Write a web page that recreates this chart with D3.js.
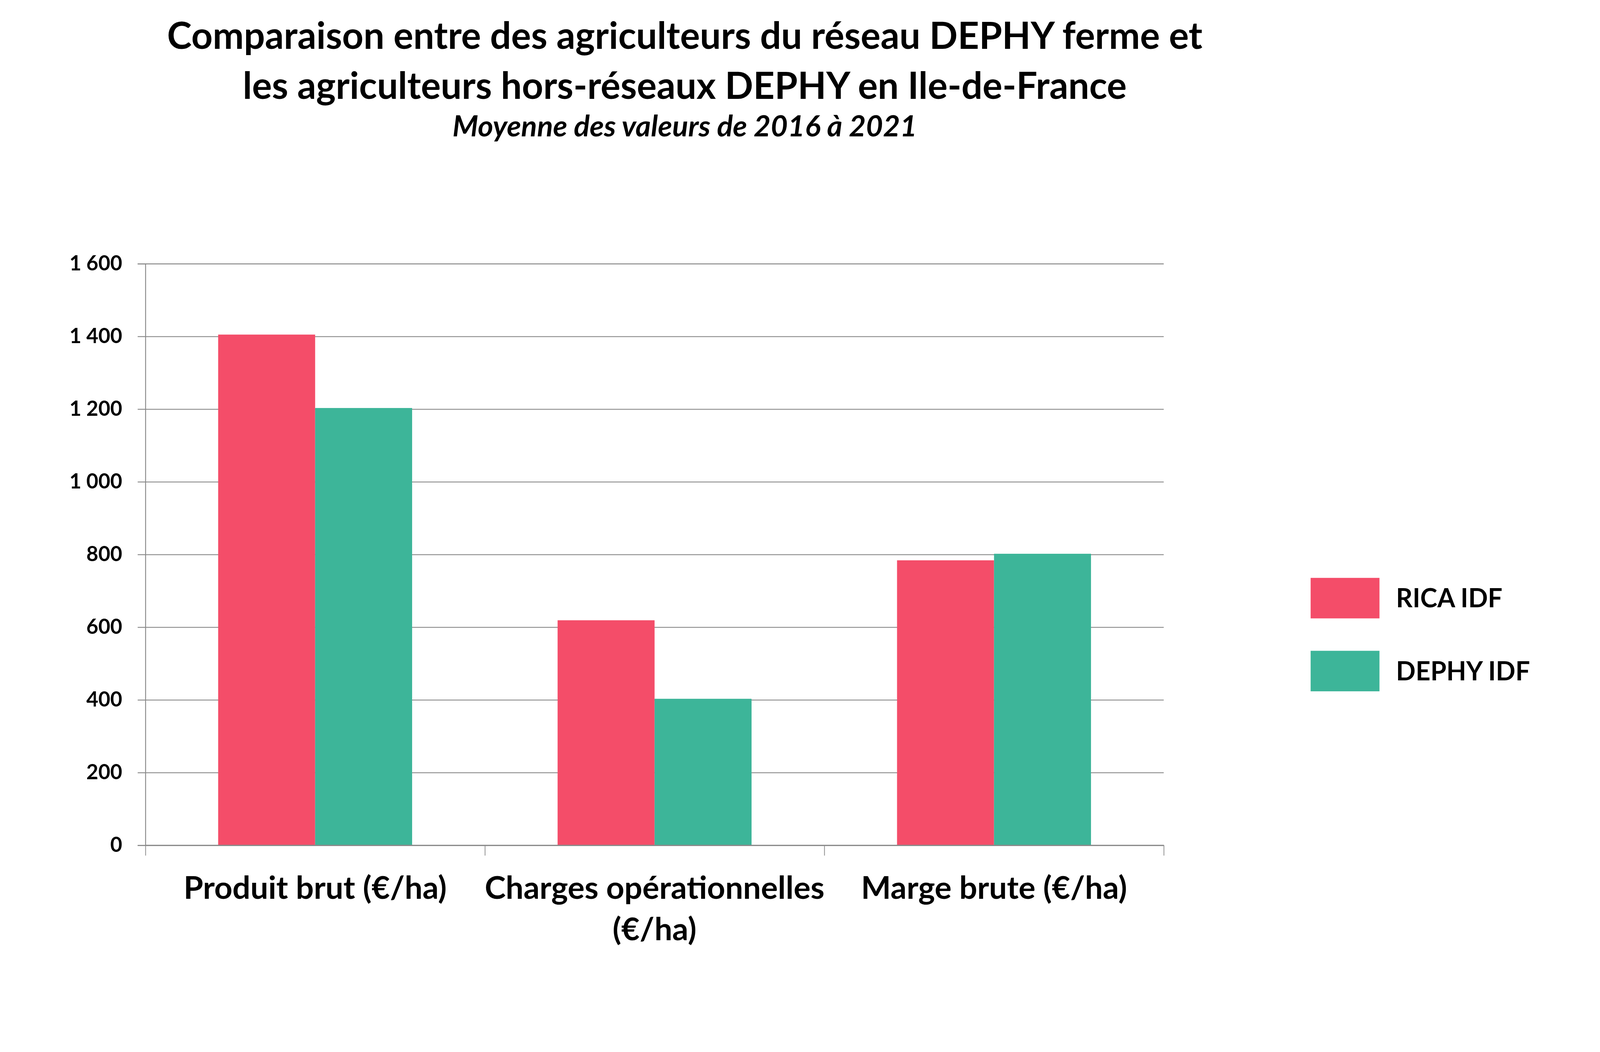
<!DOCTYPE html>
<html>
<head>
<meta charset="utf-8">
<script src="https://cdn.jsdelivr.net/npm/d3@7"></script>
<style>
  html, body { margin: 0; padding: 0; background: #fff; overflow: hidden; }
  svg { display: block; width: 100vw; height: 100vh; }
  text { font-family: Lato, "Open Sans", sans-serif; fill: #000; }
</style>
</head>
<body>
<div id="chart"></div>
<script>
// data
var titleLines = ['Comparaison entre des agriculteurs du réseau DEPHY ferme et',
                  'les agriculteurs hors-réseaux DEPHY en Ile-de-France'];
var subtitle = 'Moyenne des valeurs de 2016 à 2021';
var categories = ['Produit brut (€/ha)', 'Charges opérationnelles (€/ha)', 'Marge brute (€/ha)'];
var seriesNames = ['RICA IDF', 'DEPHY IDF'];
var ricaValues = [1405, 619, 784];
var dephyValues = [1203, 403, 802];
var yTicks = [0, 200, 400, 600, 800, 1000, 1200, 1400, 1600];
var seriesColors = ['#F44D69', '#3DB599'];

var width = 4346, height = 2692;
var plot = { left: 395, right: 3161, top: 716, bottom: 2295 };

var svg = d3.select('#chart').append('svg')
    .attr('viewBox', '0 0 ' + width + ' ' + height)
    .attr('preserveAspectRatio', 'xMinYMin meet');

var x = d3.scaleBand()
    .domain(categories)
    .range([plot.left, plot.right]);

// Excel style gap width 150 %
var gap = x.bandwidth() * 0.75 / 3.5;
var x1 = d3.scaleBand()
    .domain(seriesNames)
    .range([gap, x.bandwidth() - gap]);

var y = d3.scaleLinear()
    .domain([0, 1600])
    .range([plot.bottom, plot.top]);

var fmt = d3.formatLocale({ decimal: ',', thousands: ' ', grouping: [3], currency: ['', '€'] }).format(',d');

// gridlines
var grid = svg.append('g')
    .attr('transform', 'translate(' + plot.left + ',0)')
    .call(d3.axisLeft(y).tickValues(yTicks.slice(1)).tickSize(-(plot.right - plot.left)).tickFormat(''));
grid.select('.domain').remove();
grid.selectAll('line').attr('stroke', '#8a8a8a').attr('stroke-width', 2.5);

// bars
var rows = categories.map(function (c, i) {
    return { cat: c, values: [ricaValues[i], dephyValues[i]] };
});

var groups = svg.append('g').selectAll('g')
    .data(rows)
    .join('g')
    .attr('transform', function (d) { return 'translate(' + x(d.cat) + ',0)'; });

groups.selectAll('rect')
    .data(function (d) {
        return d.values.map(function (v, j) { return { name: seriesNames[j], value: v, color: seriesColors[j] }; });
    })
    .join('rect')
    .attr('x', function (d) { return x1(d.name); })
    .attr('width', x1.bandwidth())
    .attr('y', function (d) { return y(d.value); })
    .attr('height', function (d) { return y(0) - y(d.value); })
    .attr('fill', function (d) { return d.color; });

// y axis
var yAxis = svg.append('g')
    .attr('transform', 'translate(' + plot.left + ',0)')
    .call(d3.axisLeft(y).tickValues(yTicks).tickSize(21).tickPadding(42).tickFormat(fmt));
yAxis.select('.domain').attr('stroke', '#8a8a8a').attr('stroke-width', 2.5);
yAxis.selectAll('line').attr('stroke', '#8a8a8a').attr('stroke-width', 2.5);
yAxis.selectAll('text')
    .attr('font-size', 56)
    .attr('font-weight', 'bold')
    .style('font-family', 'Lato, sans-serif')
    .attr('fill', '#000');

// x axis: ticks on category boundaries
var xEdge = d3.scaleLinear().domain([0, categories.length]).range([plot.left, plot.right]);
var xAxis = svg.append('g')
    .attr('transform', 'translate(0,' + plot.bottom + ')')
    .call(d3.axisBottom(xEdge).tickValues(d3.range(categories.length + 1)).tickSize(28).tickSizeOuter(0).tickFormat(''));
xAxis.select('.domain').attr('stroke', '#8a8a8a').attr('stroke-width', 3.5);
xAxis.selectAll('line').attr('stroke', '#8a8a8a').attr('stroke-width', 2);

// category labels, wrapped to band width
svg.append('g').selectAll('text')
    .data(categories)
    .join('text')
    .attr('x', function (d) { return x(d) + x.bandwidth() / 2; })
    .attr('y', 2440)
    .attr('text-anchor', 'middle')
    .attr('font-size', 86)
    .attr('font-weight', 'bold')
    .each(function (d) {
        var t = d3.select(this);
        var words = d.split(' ');
        var line = [];
        var tspan = t.append('tspan').attr('x', t.attr('x')).attr('dy', 0);
        words.forEach(function (w) {
            line.push(w);
            tspan.text(line.join(' '));
            if (tspan.node().getComputedTextLength() > x.bandwidth() + 30 && line.length > 1) {
                line.pop();
                tspan.text(line.join(' '));
                line = [w];
                tspan = t.append('tspan').attr('x', t.attr('x')).attr('dy', 113).text(w);
            }
        });
    });

// legend
var legend = svg.append('g').attr('transform', 'translate(3560,1569)');
var item = legend.selectAll('g')
    .data(seriesNames)
    .join('g')
    .attr('transform', function (d, i) { return 'translate(0,' + i * 198 + ')'; });
item.append('rect')
    .attr('width', 187)
    .attr('height', 110)
    .attr('fill', function (d, i) { return seriesColors[i]; });
item.append('text')
    .attr('x', 232)
    .attr('y', 80)
    .attr('font-size', 70)
    .attr('font-weight', 'bold')
    .text(function (d) { return d; });

// titles
svg.append('g').selectAll('text')
    .data(titleLines)
    .join('text')
    .attr('x', 1860)
    .attr('y', function (d, i) { return 133 + i * 135; })
    .attr('text-anchor', 'middle')
    .attr('font-size', 101)
    .attr('font-weight', 'bold')
    .text(function (d) { return d; });

svg.append('text')
    .attr('x', 1860)
    .attr('y', 370)
    .attr('text-anchor', 'middle')
    .attr('font-size', 80)
    .attr('font-weight', 'bold')
    .attr('font-style', 'italic')
    .text(subtitle);
</script>
</body>
</html>
